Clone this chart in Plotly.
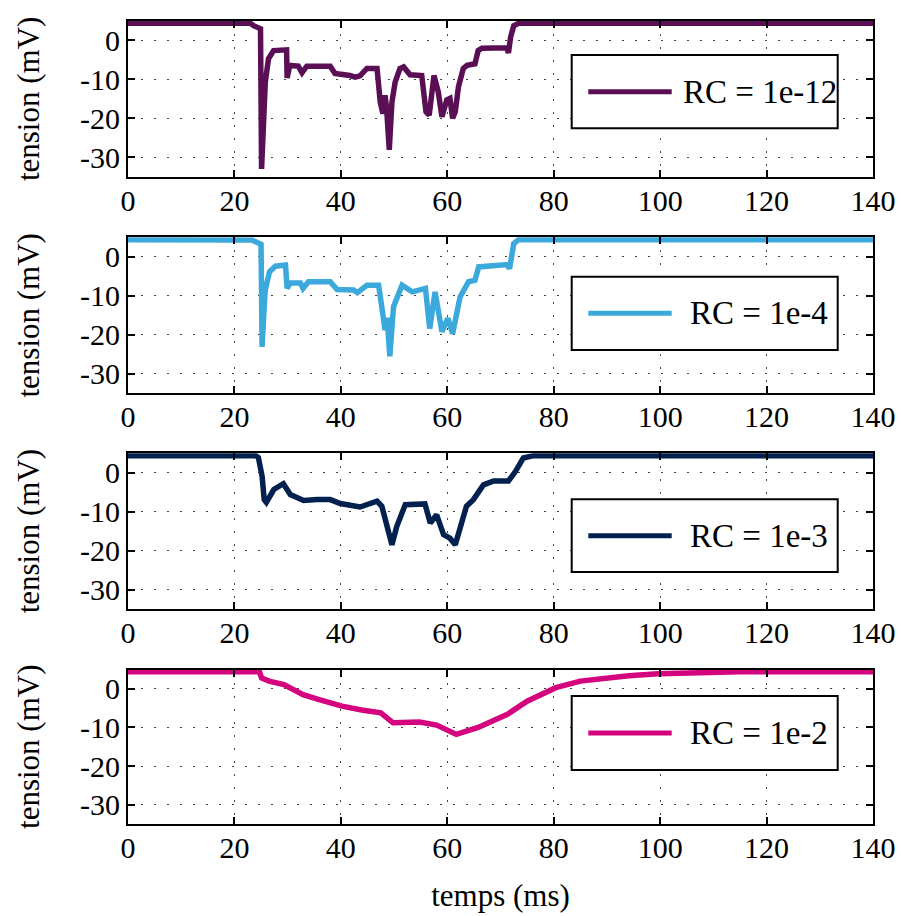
import plotly.graph_objects as go

# ---------------- data ----------------
T_1E12 = [0, 23.0, 23.6, 24.9, 25.1, 25.4, 25.8, 26.4, 27.35, 29.8, 29.9, 30.4, 32.0, 32.7, 33.6,
          38.0, 38.9, 41.7, 42.7, 43.6, 44.9, 46.8, 47.4, 47.9, 48.3, 48.6, 49.1, 49.6, 50.2,
          51.1, 51.8, 53.0, 55.2, 56.0, 56.6, 57.5, 58.3, 59.0, 59.9, 60.5, 61.0, 61.5, 62.1,
          63.0, 63.7, 65.2, 65.8, 66.5, 71.2, 71.5, 71.9, 72.5, 73.4, 140]
V_1E12 = [4.4, 4.4, 3.8, 3.0, -33.0, -22.0, -10.7, -4.7, -2.6, -2.4, -9.6, -6.4, -6.6, -8.3, -6.6,
          -6.6, -8.5, -9.0, -9.4, -9.1, -7.2, -7.2, -15.8, -18.8, -14.1, -17.5, -28.1, -15.8, -10.7,
          -7.2, -6.8, -8.8, -9.0, -18.3, -19.2, -9.0, -13.2, -19.6, -15.3, -14.9, -20.0, -18.3, -11.9,
          -7.2, -6.4, -6.0, -2.6, -2.0, -1.9, -3.2, 0.9, 3.8, 4.4, 4.4]

T_1E4 = [0, 23.3, 25.0, 25.2, 25.5, 25.8, 26.6, 27.7, 29.6, 29.9, 30.5, 32.4, 32.9, 33.9, 38.0,
         39.3, 42.4, 43.1, 44.9, 47.1, 48.0, 48.3, 48.7, 49.2, 49.9, 51.5, 53.4, 55.9, 56.7,
         57.7, 59.0, 60.1, 61.0, 62.4, 64.0, 65.2, 65.9, 71.2, 71.7, 72.5, 73.4, 140]
V_1E4 = [4.4, 4.3, 3.2, -23.1, -15.0, -8.5, -3.8, -2.4, -2.1, -8.1, -6.7, -6.7, -8.1, -6.4, -6.4,
         -8.4, -8.5, -9.2, -7.3, -7.3, -15.8, -18.8, -15.6, -25.5, -12.8, -7.3, -9.0, -8.1, -18.4,
         -9.0, -19.2, -15.8, -19.7, -10.3, -6.4, -6.0, -2.6, -2.0, -3.0, 3.4, 4.4, 4.4]

T_1E3 = [0, 24.0, 24.5, 25.2, 25.6, 26.0, 27.4, 29.2, 30.5, 33.0, 35.5, 38.0, 39.9, 43.6, 46.8,
         47.7, 49.6, 50.5, 52.1, 55.8, 56.8, 58.0, 59.3, 60.5, 61.5, 62.7, 63.6, 64.9, 66.2,
         66.8, 68.7, 71.5, 72.8, 74.3, 76.2, 140]
V_1E3 = [4.4, 4.4, 3.9, -0.9, -6.9, -7.6, -4.3, -2.8, -5.6, -7.1, -6.9, -6.9, -7.9, -8.8, -7.3,
         -8.6, -18.5, -13.8, -8.2, -8.0, -12.9, -10.8, -15.9, -16.8, -18.5, -12.5, -8.6, -6.9, -3.9,
         -3.1, -2.1, -2.1, 0.3, 3.8, 4.4, 4.4]

T_1E2 = [0, 24.7, 25.1, 26.5, 29.3, 32.9, 35.6, 40.2, 43.9, 47.5, 49.8, 54.8, 58.0, 61.7, 65.8,
         71.3, 75.0, 80.4, 85.0, 89.6, 94.1, 99.6, 107.9, 115, 140]
V_1E2 = [4.4, 4.4, 2.8, 2.0, 1.1, -1.5, -2.7, -4.5, -5.5, -6.2, -8.8, -8.6, -9.4, -11.8, -10.0,
         -6.6, -3.2, 0.3, 2.0, 2.8, 3.4, 3.9, 4.3, 4.4, 4.4]

SERIES_NAMES = ["RC = 1e-12", "RC = 1e-4", "RC = 1e-3", "RC = 1e-2"]
X_TICKS = [0, 20, 40, 60, 80, 100, 120, 140]
Y_TICKS = [-30, -20, -10, 0]
Y_TICK_LABELS = ["-30", "-20", "-10", "0"]
Y_TITLE = "tension (mV)"
X_TITLE = "temps (ms)"

# ---------------- style ----------------
COLORS = ["#5a0f55", "#3ca9dc", "#03214f", "#d4037e"]
FONT = "Liberation Serif"
W, H = 901, 916
ML, MR, MT, MB = 128, 28, 21, 92
PW, PH = W - ML - MR, H - MT - MB


def py(p):  # pixel row -> paper y
    return (H - MB - p) / PH


def px(p):  # pixel col -> paper x
    return (p - ML) / PW


DOMAINS = [(py(176.7), 1.0), (py(393.3), py(237.3)), (py(609), py(453.3)), (0.0, py(669.5))]
LEG_BOX = [(55, 128.3), (276.7, 350), (499.3, 572), (696, 770)]
LEG_TEXT_X = [680.7, 688, 688, 688]

fig = go.Figure()
series = [(T_1E12, V_1E12), (T_1E4, V_1E4), (T_1E3, V_1E3), (T_1E2, V_1E2)]
for i, (t, v) in enumerate(series):
    sfx = "" if i == 0 else str(i + 1)
    fig.add_trace(go.Scatter(x=t, y=v, mode="lines", name=SERIES_NAMES[i],
                             line=dict(color=COLORS[i], width=5.5),
                             xaxis="x" + sfx, yaxis="y" + sfx, showlegend=False))

axis_common = dict(showline=True, linecolor="black", linewidth=2, mirror="ticks",
                   ticks="inside", ticklen=7, tickwidth=1.5, tickcolor="black",
                   showgrid=True, gridcolor="#444", gridwidth=1, griddash="2px,11px",
                   zeroline=False, automargin=False,
                   tickfont=dict(family=FONT, size=30, color="black"))

layout = dict(width=W, height=H, margin=dict(l=ML, r=MR, t=MT, b=MB, autoexpand=False),
              plot_bgcolor="white", paper_bgcolor="white", showlegend=False,
              font=dict(family=FONT, color="black"))
for i in range(4):
    sfx = "" if i == 0 else str(i + 1)
    xa = dict(axis_common, range=[0, 140], tickvals=X_TICKS, anchor="y" + sfx, domain=[0, 1],
              ticklabelstandoff=-4)
    if i == 3:
        xa["title"] = dict(text=X_TITLE, font=dict(family=FONT, size=31), standoff=21)
    ya = dict(axis_common, range=[-35, 5], tickvals=Y_TICKS, ticktext=Y_TICK_LABELS,
              anchor="x" + sfx, domain=list(DOMAINS[i]),
              title=dict(text=Y_TITLE, font=dict(family=FONT, size=31), standoff=31))
    layout["xaxis" + sfx] = xa
    layout["yaxis" + sfx] = ya
fig.update_layout(**layout)

# manual legends (box + line sample + text)
for i in range(4):
    top, bot = LEG_BOX[i]
    mid = (top + bot) / 2
    fig.add_shape(type="rect", xref="paper", yref="paper",
                  x0=px(571.7), x1=px(837.7), y0=py(bot), y1=py(top),
                  line=dict(color="black", width=2), fillcolor="white", layer="above")
    fig.add_shape(type="line", xref="paper", yref="paper",
                  x0=px(588.3), x1=px(671.7), y0=py(mid), y1=py(mid),
                  line=dict(color=COLORS[i], width=5), layer="above")
    fig.add_annotation(xref="paper", yref="paper", x=px(LEG_TEXT_X[i]), y=py(mid),
                       xanchor="left", yanchor="middle", showarrow=False,
                       text=SERIES_NAMES[i], font=dict(family=FONT, size=33, color="black"))

fig.write_html("out.html", config={"displayModeBar": False},
               post_script="document.body.style.margin='0';")
